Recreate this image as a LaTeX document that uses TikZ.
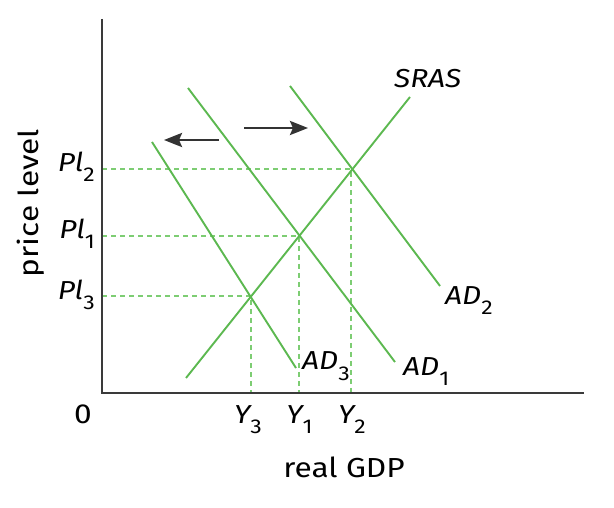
\documentclass[tikz,border=0pt]{standalone}
\usepackage{fontspec}
\setmainfont{Fira Sans}[FakeStretch=1.15]
\usetikzlibrary{arrows.meta}
\definecolor{curvegreen}{RGB}{92,184,80}
\definecolor{guidegreen}{RGB}{125,205,115}
\definecolor{axisgray}{RGB}{58,58,58}
\newcommand{\lbsub}[1]{\raisebox{-10pt}{\fontsize{20}{20}\selectfont\upshape #1}}
\begin{document}
\begin{tikzpicture}[x=1pt,y=-1pt,
  axisline/.style={draw=axisgray,line width=2.4pt},
  curveline/.style={draw=curvegreen,line width=1.9pt},
  guideline/.style={draw=guidegreen,line width=1.1pt,dash pattern=on 5pt off 4pt},
  shiftarrow/.style={draw=black!80,line width=2.8pt,-{Stealth[length=18pt,width=14pt,inset=3pt]}},
  lab/.style={font=\fontsize{26}{26}\selectfont\itshape,inner sep=0pt},
  axlab/.style={font=\fontsize{27.5}{27.5}\selectfont,inner sep=0pt}]
\useasboundingbox (0,0) rectangle (614,508);
% coordinates
\coordinate (O) at (102,393);
\coordinate (ytop) at (102,19);
\coordinate (xend) at (584,393);
\coordinate (s1) at (186,378);
\coordinate (s2) at (410,97);
\coordinate (a1s) at (188,88);
\coordinate (a1e) at (395,362);
\coordinate (a2s) at (290,86);
\coordinate (a2e) at (440,286);
\coordinate (a3s) at (152,142);
\coordinate (a3e) at (296,368);
\coordinate (E1) at (299,236);
\coordinate (E2) at (351,169);
\coordinate (E3) at (251,296);
\coordinate (la1) at (219,140);
\coordinate (la2) at (164,140);
\coordinate (ra1) at (244,128);
\coordinate (ra2) at (308,128);
% guides
\draw[guideline] (O |- E2) -- (E2) -- (E2 |- O);
\draw[guideline] (O |- E1) -- (E1) -- (E1 |- O);
\draw[guideline] (O |- E3) -- (E3) -- (E3 |- O);
% curves
\draw[curveline] (s1) -- (s2);
\draw[curveline] (a1s) -- (a1e);
\draw[curveline] (a2s) -- (a2e);
\draw[curveline] (a3s) -- (a3e);
% axes
\draw[axisline] (ytop) -- (O) -- (xend);
% arrows
\draw[shiftarrow] (la1) -- (la2);
\draw[shiftarrow] (ra1) -- (ra2);
% labels
\node[lab,anchor=base west] (lsras) at (394,88) {SRAS};
\node[lab,anchor=base west] (lad2) at (445,305) {AD\lbsub{2}};
\node[lab,anchor=base west] (lad1) at (403,375) {AD\lbsub{1}};
\node[lab,anchor=base west] (lad3) at (302,370) {AD\lbsub{3}};
\node[lab,anchor=base east] (lp2) at (95,172) {Pl\lbsub{2}};
\node[lab,anchor=base east] (lp1) at (95,239) {Pl\lbsub{1}};
\node[lab,anchor=base east] (lp3) at (95,299) {Pl\lbsub{3}};
\node[lab,anchor=base] (ly3) at (248,423) {Y\lbsub{3}};
\node[lab,anchor=base] (ly1) at (299.5,423) {Y\lbsub{1}};
\node[lab,anchor=base] (ly2) at (352,423) {Y\lbsub{2}};
\node[axlab,anchor=base] (lzero) at (83,423) {0};
\node[axlab,anchor=base] (lgdp) at (344,477) {real GDP};
\node[axlab,anchor=base,rotate=90] (lprice) at (38,203) {price level};
\end{tikzpicture}
\end{document}
